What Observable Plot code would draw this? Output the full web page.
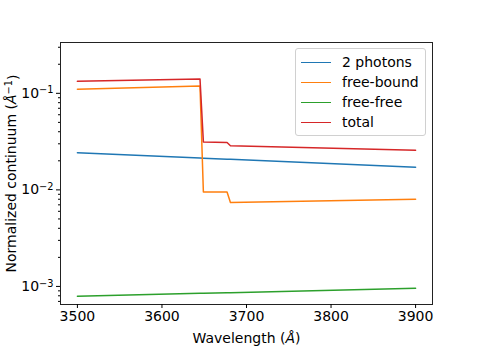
<!DOCTYPE html>
<html>
<head>
<meta charset="utf-8">
<script src="https://cdn.jsdelivr.net/npm/d3@7"></script>
<script src="https://cdn.jsdelivr.net/npm/@observablehq/plot@0.6"></script>
<style>
  html, body { margin: 0; padding: 0; background: #fff; }
  #wrap { position: relative; width: 480px; height: 348px; font-family: "DejaVu Sans", sans-serif; }
  #legend { position: absolute; left: 295px; top: 48px; width: 131px; height: 88px; box-sizing: border-box;
    border: 1px solid #d0d0d0; border-radius: 3px; background: rgba(255,255,255,0.8); font-size: 14px; color: #000; }
  .row { position: absolute; left: 0; height: 20px; display: flex; align-items: center; white-space: nowrap; }
  .sw { width: 30px; height: 0; border-top: 1.5px solid; margin-left: 5px; margin-right: 11px; }
</style>
</head>
<body>
<div id="wrap"><div id="legend"></div></div>
<script>
const seriesNames = ["2 photons", "free-bound", "free-free", "total"];
const seriesColors = ["#1f77b4", "#ff7f0e", "#2ca02c", "#d62728"];
const wavelength = [3500, 3645, 3649, 3677, 3681, 3900];
const twoPhotons = [0.0242, 0.0214, 0.0213, 0.0208, 0.0207, 0.0172];
const freeBound  = [0.110, 0.119, 0.0095, 0.0095, 0.0074, 0.0080];
const freeFree   = [0.00079, 0.00085, 0.00085, 0.00086, 0.00086, 0.00096];
const total      = [0.133, 0.141, 0.0314, 0.0309, 0.0286, 0.0258];
const xTicks = [3500, 3600, 3700, 3800, 3900];
const yMajorTicks = [0.001, 0.01, 0.1];
const yMinorTicks = [0.0007, 0.0008, 0.0009, 0.002, 0.003, 0.004, 0.005, 0.006, 0.007, 0.008, 0.009,
  0.02, 0.03, 0.04, 0.05, 0.06, 0.07, 0.08, 0.09, 0.2, 0.3];

const allSeries = [twoPhotons, freeBound, freeFree, total];
const rows = [];
allSeries.forEach((vals, i) => vals.forEach((v, j) => rows.push({series: seriesNames[i], x: wavelength[j], y: v})));

const fmt = d => "10^" + Math.round(Math.log10(d));

const chart = Plot.plot({
  width: 480, height: 348,
  marginLeft: 60, marginRight: 48, marginTop: 42, marginBottom: 44,
  style: {fontFamily: "DejaVu Sans", fontSize: "14px", color: "#000", background: "transparent"},
  x: {domain: [3480, 3920]},
  y: {type: "log", domain: [0.00065, 0.336]},
  color: {domain: seriesNames, range: seriesColors},
  marks: [
    Plot.line(rows, {x: "x", y: "y", z: "series", stroke: "series", strokeWidth: 1.5}),
    Plot.frame({stroke: "#222", strokeWidth: 1}),
    Plot.axisX({ticks: xTicks, tickSize: 4, tickPadding: 3, tickFormat: d => String(d),
      label: "Wavelength (Å)", labelAnchor: "center", labelOffset: 38, labelArrow: "none"}),
    Plot.axisY({ticks: yMajorTicks, tickSize: 4, tickPadding: 3, tickFormat: fmt,
      label: "Normalized continuum (Å-1)", labelAnchor: "center", labelOffset: 54, labelArrow: "none"}),
    Plot.axisY({ticks: yMinorTicks, tickSize: 2, tickFormat: () => "", label: null})
  ]
});
document.getElementById("wrap").prepend(chart);
chart.style.position = "absolute"; chart.style.left = "0"; chart.style.top = "0";

// mathtext-like rendering: superscripts and italic Å
const NS = "http://www.w3.org/2000/svg";
function sup(el, s) {
  const t = document.createElementNS(NS, "tspan");
  t.setAttribute("dy", "-0.45em"); t.setAttribute("font-size", "0.7em");
  t.textContent = s.replace("-", "\u2212");
  el.appendChild(t);
}
chart.querySelectorAll("text").forEach(el => {
  const s = el.textContent;
  const m = s.match(/^10\^(-?\d+)$/);
  if (m) {
    el.textContent = "10"; sup(el, m[1]);
  } else if (s === "Wavelength (Å)") {
    el.textContent = "Wavelength (";
    const a = document.createElementNS(NS, "tspan"); a.setAttribute("font-style", "italic"); a.textContent = "Å";
    el.appendChild(a); el.appendChild(document.createTextNode(")"));
  } else if (s === "Normalized continuum (Å-1)") {
    el.textContent = "Normalized continuum (";
    const a = document.createElementNS(NS, "tspan"); a.setAttribute("font-style", "italic"); a.textContent = "Å";
    el.appendChild(a); sup(el, "-1");
    const c = document.createElementNS(NS, "tspan"); c.setAttribute("dy", "0.45em"); c.textContent = ")";
    el.appendChild(c);
  }
});

const legend = document.getElementById("legend");
seriesNames.forEach((name, i) => {
  const r = document.createElement("div");
  r.className = "row";
  r.style.top = (3 + i * 20) + "px";
  r.innerHTML = `<span class="sw" style="border-color:${seriesColors[i]}"></span><span>${name}</span>`;
  legend.appendChild(r);
});
</script>
</body>
</html>
